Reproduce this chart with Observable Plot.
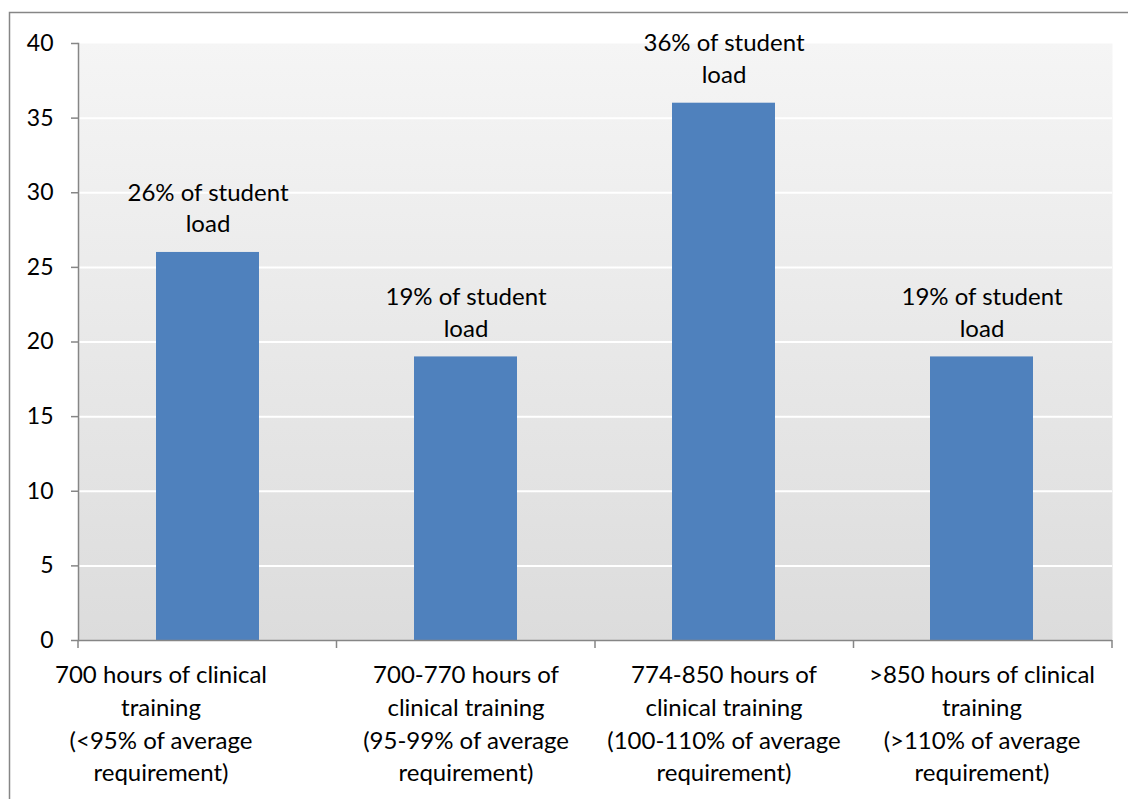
<!DOCTYPE html>
<html>
<head>
<meta charset="utf-8">
<script src="https://cdn.jsdelivr.net/npm/d3@7"></script>
<script src="https://cdn.jsdelivr.net/npm/@observablehq/plot@0.6"></script>
<style>
  html, body { margin: 0; padding: 0; background: #fff; }
  #chart svg { display: block; }
</style>
</head>
<body>
<div id="chart"></div>
<script>
// Clinical training hours, grouped into four bands
const categories = [
  "700 hours of clinical\ntraining\n(<95% of average\nrequirement)",
  "700-770 hours of\nclinical training\n(95-99% of average\nrequirement)",
  "774-850 hours of\nclinical training\n(100-110% of average\nrequirement)",
  ">850 hours of clinical\ntraining\n(>110% of average\nrequirement)"
];
const values = [26, 19, 36, 19];
const valueLabels = [
  "26% of student\nload",
  "19% of student\nload",
  "36% of student\nload",
  "19% of student\nload"
];
const yTicks = [0, 5, 10, 15, 20, 25, 30, 35, 40];
const gridTicks = [5, 10, 15, 20, 25, 30, 35];

const rows = categories.map((c, i) => ({category: c, value: values[i], label: valueLabels[i]}));

const axisColor = "#868686";
const barColor = "#4F81BD";
const font = "Lato, 'Open Sans', sans-serif";
const labelSize = 24;

// Vertical gradient behind the plotting area
function backgroundGradient() {
  const defs = d3.create("svg:defs");
  const g = defs.append("linearGradient")
    .attr("id", "plotBg").attr("x1", 0).attr("y1", 0).attr("x2", 0).attr("y2", 1);
  g.append("stop").attr("offset", "0%").attr("stop-color", "#f5f5f5");
  g.append("stop").attr("offset", "100%").attr("stop-color", "#dcdcdc");
  return defs.node();
}

// Outer chart border (top and left edges visible)
function chartBorder(index, scales, values, dims) {
  return d3.create("svg:rect")
    .attr("x", 9.5).attr("y", 12.5)
    .attr("width", dims.width + 20).attr("height", dims.height + 20)
    .attr("fill", "none").attr("stroke", axisColor).attr("stroke-width", 1.5)
    .node();
}

// Tick marks between category bands, below the baseline
function categoryTicks(index, scales, values, dims) {
  const {marginLeft, marginRight, width} = dims;
  const step = (width - marginLeft - marginRight) / categories.length;
  const y0 = scales.y(0);
  const g = d3.create("svg:g").attr("stroke", axisColor).attr("stroke-width", 1.5);
  for (let i = 0; i <= categories.length; i++) {
    const px = marginLeft + i * step;
    g.append("line").attr("x1", px).attr("x2", px).attr("y1", y0).attr("y2", y0 + 8);
  }
  return g.node();
}

const xAxisStyle = {tickSize: 0, tickPadding: 19, fontSize: labelSize, lineHeight: 1.37, fill: "#000"};

const chart = Plot.plot({
  width: 1128,
  height: 799,
  marginLeft: 78,
  marginRight: 16,
  marginTop: 43,
  marginBottom: 159,
  style: {fontFamily: font, color: "#000", background: "#fff"},
  x: {domain: categories, paddingInner: 0.6, paddingOuter: 0.3, label: null},
  y: {domain: [0, 40], label: null},
  marks: [
    backgroundGradient,
    chartBorder,
    Plot.frame({fill: "url(#plotBg)", stroke: null}),
    Plot.ruleY(gridTicks, {stroke: "#fff", strokeWidth: 2}),
    Plot.barY(rows, {x: "category", y: "value", fill: barColor}),
    Plot.text(rows, {
      x: "category", y: "value", text: "label",
      lineAnchor: "bottom", dy: -20, fontSize: labelSize, lineHeight: 1.33, fill: "#000"
    }),
    Plot.axisY({ticks: yTicks, tickSize: 7, tickPadding: 18, fontSize: 23, stroke: axisColor, strokeWidth: 1.5, fill: "#000"}),
    // the first category label sits left of its band centre
    Plot.axisX({...xAxisStyle, ticks: categories.slice(0, 1), dx: -47}),
    Plot.axisX({...xAxisStyle, ticks: categories.slice(1)}),
    Plot.frame({anchor: "left", stroke: axisColor, strokeWidth: 1.5}),
    Plot.ruleY([0], {stroke: axisColor, strokeWidth: 1.5}),
    categoryTicks
  ]
});

document.getElementById("chart").appendChild(chart);
</script>
</body>
</html>
